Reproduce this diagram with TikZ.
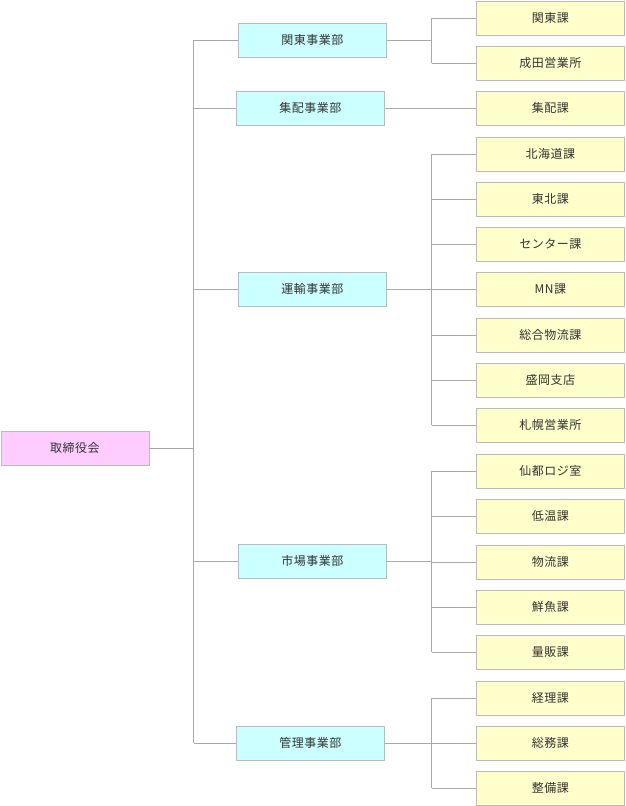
\documentclass[tikz,border=0pt]{standalone}
\usepackage{fontspec}
\newfontfamily\jp{Noto Sans CJK JP}[LetterSpace=4]
\begin{document}
\begin{tikzpicture}[x=1pt,y=-1pt,
  box/.style={draw=boxgray,line width=0.8pt,minimum width=148pt,minimum height=34pt,inner sep=0pt,
    font=\jp\fontsize{12}{14}\selectfont,text=txt,anchor=north west},
  top/.style={box,fill=pinkf},
  dept/.style={box,fill=cyanf},
  sect/.style={box,fill=yellf},
  ln/.style={draw=linegray,line width=0.8pt}]
\definecolor{boxgray}{HTML}{BBBBBB}
\definecolor{linegray}{HTML}{AAAAAA}
\definecolor{pinkf}{HTML}{FFCCFF}
\definecolor{cyanf}{HTML}{CCFFFF}
\definecolor{yellf}{HTML}{FFFFCC}
\definecolor{txt}{HTML}{333333}
\useasboundingbox (0,0) rectangle (625,806);
% top
\node[top] (T) at (0.5,431) {取締役会};
% departments
\node[dept] (D1) at (238,23) {関東事業部};
\node[dept] (D2) at (236,91) {集配事業部};
\node[dept] (D3) at (238,272) {運輸事業部};
\node[dept] (D4) at (238,544) {市場事業部};
\node[dept] (D5) at (236,726) {管理事業部};
% sections
\def\sx{476}
\node[sect] (S1) at (\sx,0.5) {関東課};
\node[sect] (S2) at (\sx,45.5) {成田営業所};
\node[sect] (S3) at (\sx,91) {集配課};
\node[sect] (S4) at (\sx,136.5) {北海道課};
\node[sect] (S5) at (\sx,181.5) {東北課};
\node[sect] (S6) at (\sx,227) {センター課};
\node[sect] (S7) at (\sx,272) {MN課};
\node[sect] (S8) at (\sx,317.5) {総合物流課};
\node[sect] (S9) at (\sx,363) {盛岡支店};
\node[sect] (S10) at (\sx,408) {札幌営業所};
\node[sect] (S11) at (\sx,454) {仙都ロジ室};
\node[sect] (S12) at (\sx,499) {低温課};
\node[sect] (S13) at (\sx,544.5) {物流課};
\node[sect] (S14) at (\sx,590) {鮮魚課};
\node[sect] (S15) at (\sx,635) {量販課};
\node[sect] (S16) at (\sx,680.5) {経理課};
\node[sect] (S17) at (\sx,726) {総務課};
\node[sect] (S18) at (\sx,771) {整備課};
% trunk
\coordinate (tx) at (193.5,0);
\coordinate (jx) at (431.5,0);
\draw[ln] (T.east) -- (T.east -| tx);
\draw[ln] (D1.west -| tx) -- (D5.west -| tx);
\foreach \d in {D1,D2,D3,D4,D5} \draw[ln] (\d.west -| tx) -- (\d.west);
% branches
\draw[ln] (D1.east) -- (D1.east -| jx);
\draw[ln] (S1.west -| jx) -- (S2.west -| jx);
\foreach \s in {S1,S2} \draw[ln] (\s.west -| jx) -- (\s.west);
\draw[ln] (D2.east) -- (S3.west);
\draw[ln] (D3.east) -- (D3.east -| jx);
\draw[ln] (S4.west -| jx) -- (S10.west -| jx);
\foreach \s in {S4,S5,S6,S7,S8,S9,S10} \draw[ln] (\s.west -| jx) -- (\s.west);
\draw[ln] (D4.east) -- (D4.east -| jx);
\draw[ln] (S11.west -| jx) -- (S15.west -| jx);
\foreach \s in {S11,S12,S13,S14,S15} \draw[ln] (\s.west -| jx) -- (\s.west);
\draw[ln] (D5.east) -- (D5.east -| jx);
\draw[ln] (S16.west -| jx) -- (S18.west -| jx);
\foreach \s in {S16,S17,S18} \draw[ln] (\s.west -| jx) -- (\s.west);
\end{tikzpicture}
\end{document}
